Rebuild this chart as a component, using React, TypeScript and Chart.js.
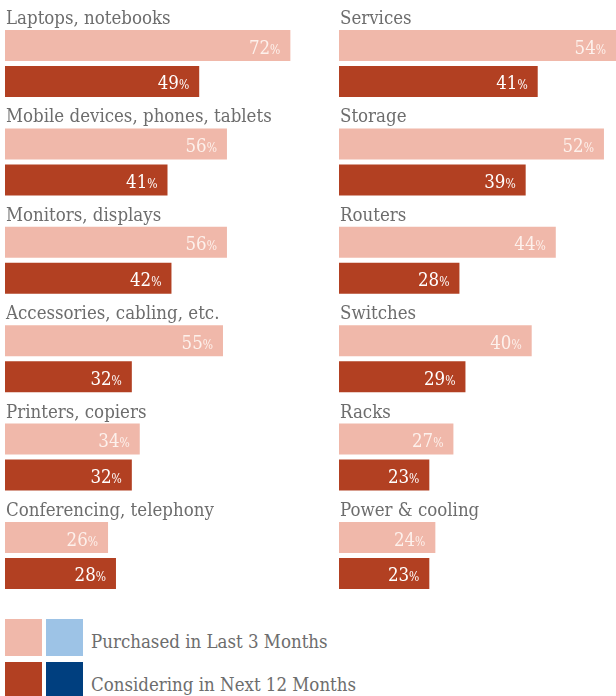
import React, { useEffect, useRef } from "react";
import { Chart, registerables } from "chart.js";

Chart.register(...registerables);

// ---- data ----
const leftCategories = [
  "Laptops, notebooks",
  "Mobile devices, phones, tablets",
  "Monitors, displays",
  "Accessories, cabling, etc.",
  "Printers, copiers",
  "Conferencing, telephony",
];
const leftPurchased = [72, 56, 56, 55, 34, 26];
const leftConsidering = [49, 41, 42, 32, 32, 28];

const rightCategories = [
  "Services",
  "Storage",
  "Routers",
  "Switches",
  "Racks",
  "Power & cooling",
];
const rightPurchased = [54, 52, 44, 40, 27, 24];
const rightConsidering = [41, 39, 28, 29, 23, 23];

const seriesNames = ["Purchased in Last 3 Months", "Considering in Next 12 Months"];

// ---- style ----
const FONT = '"DejaVu Serif Condensed", "DejaVu Serif", serif';
const TEXT = "#6d6d6d";
const PINK = "#f0b8aa";
const RED = "#b24022";
const LBLUE = "#9dc3e6";
const DBLUE = "#003f7f";

const labelPlugin = {
  id: "groupLabels",
  afterDatasetsDraw(chart: any) {
    const ctx = chart.ctx;
    const cats: string[] = chart.data.labels;
    ctx.save();
    // titles
    const meta0 = chart.getDatasetMeta(0);
    ctx.font = `18.5px ${FONT}`;
    ctx.fillStyle = TEXT;
    ctx.textAlign = "left";
    ctx.textBaseline = "alphabetic";
    meta0.data.forEach((bar: any, i: number) => {
      const top = bar.y - bar.height / 2;
      ctx.fillText(cats[i], chart.chartArea.left + 1, top - 6);
    });
    // values
    chart.data.datasets.forEach((ds: any, di: number) => {
      const meta = chart.getDatasetMeta(di);
      meta.data.forEach((bar: any, i: number) => {
        const v = ds.data[i];
        const xEnd = Math.min(bar.x, chart.chartArea.right);
        const base = bar.y + 8;
        ctx.fillStyle = di === 0 ? "#fdf1ec" : "#ffffff";
        ctx.textAlign = "right";
        ctx.font = `12px ${FONT}`;
        const pw = ctx.measureText("%").width;
        ctx.fillText("%", xEnd - 10, base);
        ctx.font = `18.5px ${FONT}`;
        ctx.fillText(String(v), xEnd - 10 - pw, base);
      });
    });
    ctx.restore();
  },
};

function BarColumn(props: {
  categories: string[];
  purchased: number[];
  considering: number[];
  min: number;
  max: number;
  width: number;
  height: number;
}) {
  const ref = useRef<HTMLCanvasElement | null>(null);
  useEffect(() => {
    if (!ref.current) return;
    const chart = new Chart(ref.current, {
      type: "bar",
      data: {
        labels: props.categories,
        datasets: [
          {
            label: seriesNames[0],
            data: props.purchased,
            backgroundColor: PINK,
            borderWidth: 0,
            barPercentage: 0.8611,
            categoryPercentage: 0.7317,
          },
          {
            label: seriesNames[1],
            data: props.considering,
            backgroundColor: RED,
            borderWidth: 0,
            barPercentage: 0.8611,
            categoryPercentage: 0.7317,
          },
        ],
      },
      options: {
        indexAxis: "y",
        responsive: false,
        animation: false,
        devicePixelRatio: 1,
        layout: { padding: { left: 5, right: 0, top: 14.3, bottom: props.height - 604.7 } },
        plugins: { legend: { display: false }, tooltip: { enabled: false } },
        scales: {
          x: { display: false, min: props.min, max: props.max, grid: { display: false } },
          y: { display: false, grid: { display: false } },
        },
      },
      plugins: [labelPlugin],
    } as any);
    return () => chart.destroy();
  }, []);
  return (
    <canvas
      ref={ref}
      width={props.width}
      height={props.height}
      style={{ width: props.width, height: props.height, display: "block" }}
    />
  );
}

export default function App() {
  const sq = (left: number, top: number, color: string) => (
    <div style={{ position: "absolute", left, top, width: 37, height: 37, background: color }} />
  );
  const txt: React.CSSProperties = {
    position: "absolute",
    left: 91,
    fontFamily: FONT,
    fontSize: 18.5,
    lineHeight: "20px",
    color: TEXT,
    whiteSpace: "nowrap",
  };
  return (
    <div
      style={{
        position: "absolute",
        left: 0,
        top: 0,
        width: 616,
        height: 696,
        overflow: "hidden",
        background: "#ffffff",
      }}
    >
      <div style={{ position: "absolute", left: 0, top: 0 }}>
        <BarColumn
          categories={leftCategories}
          purchased={leftPurchased}
          considering={leftConsidering}
          min={0}
          max={82}
          width={330}
          height={610}
        />
      </div>
      <div style={{ position: "absolute", left: 334, top: 0 }}>
        <BarColumn
          categories={rightCategories}
          purchased={rightPurchased}
          considering={rightConsidering}
          min={8}
          max={54}
          width={282}
          height={610}
        />
      </div>
      {sq(5, 619, PINK)}
      {sq(46, 619, LBLUE)}
      {sq(5, 662, RED)}
      {sq(46, 662, DBLUE)}
      <div style={{ ...txt, top: 632 }}>{seriesNames[0]}</div>
      <div style={{ ...txt, top: 675 }}>{seriesNames[1]}</div>
    </div>
  );
}
